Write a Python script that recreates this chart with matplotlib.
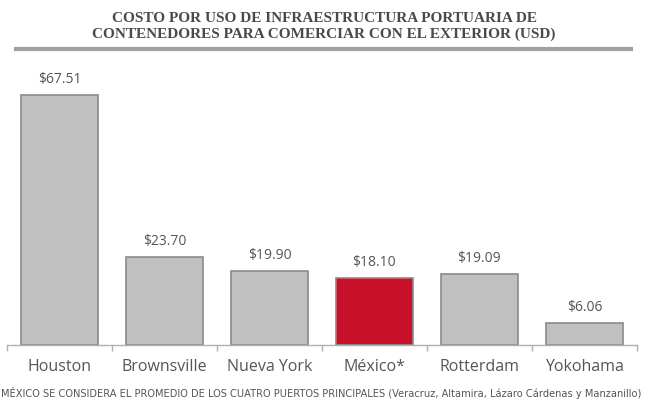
import numpy as np
import matplotlib
matplotlib.use("Agg")
import matplotlib.pyplot as plt

# data
puertos = ['Houston', 'Brownsville', 'Nueva York', 'México*', 'Rotterdam', 'Yokohama']
costos = [67.51, 23.70, 19.90, 18.10, 19.09, 6.06]
etiquetas = ['$67.51', '$23.70', '$19.90', '$18.10', '$19.09', '$6.06']
titulo = ('COSTO POR USO DE INFRAESTRUCTURA PORTUARIA DE\n'
          'CONTENEDORES PARA COMERCIAR CON EL EXTERIOR (USD)')
nota = ('MÉXICO SE CONSIDERA EL PROMEDIO DE LOS CUATRO PUERTOS PRINCIPALES '
        '(Veracruz, Altamira, Lázaro Cárdenas y Manzanillo)')

gris = '#c0c0c0'
rojo = '#c8102a'
colores = [rojo if p.startswith('México') else gris for p in puertos]

fig = plt.figure(figsize=(6.48, 4.02), dpi=100)
ax = fig.add_axes([0.0108, 0.139, 0.972, 0.712])

x = np.arange(len(puertos))
ax.bar(x, costos, width=0.73, color=colores, edgecolor='#8a8a8a', linewidth=1.2)

for xi, v, t in zip(x, costos, etiquetas):
    ax.text(xi, v + 2.4, t, ha='center', va='bottom', fontsize=10,
            family='Open Sans', color='#555555')

ax.set_xlim(-0.5, len(puertos) - 0.5)
ax.set_ylim(0, 77.2)
ax.set_yticks([])
for s in ['top', 'right', 'left']:
    ax.spines[s].set_visible(False)
ax.spines['bottom'].set_color('#b0b0b0')
ax.spines['bottom'].set_linewidth(1.0)

ax.set_xticks(x)
ax.set_xticklabels(puertos, fontsize=11.5, family='Open Sans', color='#555555')
ax.tick_params(axis='x', length=0, pad=9)
ax.set_xticks(np.arange(-0.5, len(puertos)), minor=True)
ax.tick_params(axis='x', which='minor', length=4, color='#b0b0b0', width=1)

fig.text(0.5, 0.97, titulo, ha='center', va='top', fontsize=11, weight='bold',
         family='Liberation Serif', color='#4a4a4a', linespacing=1.2)
fig.add_artist(plt.Line2D([0.025, 0.973], [0.875, 0.875], transform=fig.transFigure,
                          color='#a0a0a0', linewidth=3))

fig.text(0.002, 0.022, nota, ha='left', va='center', fontsize=7.1,
         family='Liberation Sans Narrow', color='#555555')

fig.savefig('out.png', dpi=100, facecolor='white')
